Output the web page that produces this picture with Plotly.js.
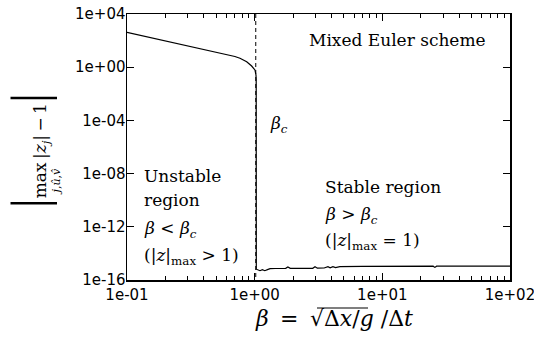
<!DOCTYPE html>
<html>
<head>
<meta charset="utf-8">
<script src="https://cdn.plot.ly/plotly-3.0.1.min.js"></script>
<style>html,body{margin:0;padding:0;background:#fff;}#chart{width:534px;height:347px;}</style>
</head>
<body>
<div id="chart"></div>
<script>
// beta = sqrt(dx/g)/dt  and  | max|z_j| - 1 |
const beta = [0.1, 0.15, 0.2, 0.3, 0.4, 0.5, 0.6, 0.7, 0.767, 0.866, 0.947, 1.005, 1.024, 1.028,
  1.03, 1.06, 1.10, 1.15, 1.2, 1.26, 1.32, 1.45, 1.6, 1.75, 1.82, 1.9, 2.4, 2.85, 2.97, 3.1, 3.5,
  3.75, 3.9, 4.1, 4.3, 4.65, 7, 13, 25, 25.8, 26.6, 50, 100];
const gap = [417, 177, 96, 40.6, 22, 13.7, 9.3, 6.4, 4.7, 2.6, 1.23, 0.62, 0.26, 0.12,
  6.5e-16, 5.8e-16, 5.0e-16, 6.0e-16, 5.0e-16, 6.0e-16, 7.2e-16, 7.3e-16, 7.5e-16, 7.5e-16, 9.5e-16, 7.5e-16, 7.5e-16, 7.6e-16, 1.0e-15, 7.8e-16, 8.0e-16,
  1.0e-15, 8.2e-16, 1.0e-15, 8.5e-16, 1.0e-15, 1.05e-15, 1.1e-15, 1.1e-15, 8.9e-16, 1.1e-15, 1.1e-15, 1.1e-15];
const betaC = 1.02;
const yLimits = [1e4, 1e-16];

const xTickVals = [0.1, 1, 10, 100];
const xTickText = ["1e-01", "1e+00", "1e+01", "1e+02"];
const yTickVals = [1e4, 1, 1e-4, 1e-8, 1e-12, 1e-16];
const yTickText = ["1e+04", "1e+00", "1e-04", "1e-08", "1e-12", "1e-16"];

const serif = "DejaVu Serif, Liberation Serif, serif";
const tickFont = {family: "DejaVu Sans, sans-serif", size: 15, color: "#000"};
const annFont = {family: serif, size: 17, color: "#000"};
const NB = "\u00a0", TH = "\u2009";

const traces = [
  {x: [betaC, betaC], y: yLimits, mode: "lines", line: {color: "#000", width: 1, dash: "4px,3px"}, hoverinfo: "skip"},
  {x: beta, y: gap, mode: "lines", line: {color: "#000", width: 1.2}}
];

function ann(text, x, y, xanchor, extra) {
  return Object.assign({text: text, x: x, y: y, xref: "paper", yref: "paper", xanchor: xanchor, yanchor: "middle",
    showarrow: false, font: annFont}, extra || {});
}

const bar = "<span style=\"font-size:50px;font-family:Liberation Serif\">|</span>";
const annotations = [
  ann("Mixed Euler scheme", 0.9426, 0.902, "right"),
  ann("<i>β</i><sub><i>c</i></sub>", 0.368, 0.583, "left"),
  ann("Unstable", 0.039, 0.39, "left"),
  ann("region", 0.039, 0.301, "left"),
  ann("<i>β</i> &lt; <i>β</i><sub><i>c</i></sub>", 0.039, 0.188, "left"),
  ann("(|<i>z</i>|<sub>max</sub> &gt; 1)", 0.039, 0.0865, "left"),
  ann("Stable region", 0.512, 0.35, "left"),
  ann("<i>β</i> &gt; <i>β</i><sub><i>c</i></sub>", 0.512, 0.244, "left"),
  ann("(|<i>z</i>|<sub>max</sub> = 1)", 0.512, 0.143, "left"),
  ann("<i>β</i>" + NB + TH + "=" + NB + TH + "√Δ<i>x</i>/<i>g</i>" + NB + "/Δ<i>t</i>", 0.54, -0.143, "center",
      {font: {family: serif, size: 22, color: "#000"}}),
  ann(bar + "max" + TH + "|<i>z<sub>j</sub></i>|" + TH + "−" + TH + "1" + bar,
      -0.255, 0.485, "center", {textangle: -90}),
  ann("<i>j</i>,<i>û</i>,<i>v̂</i>", -0.183, 0.37, "center", {textangle: -90, font: {family: serif, size: 11, color: "#000"}})
];

const shapes = [
  {type: "line", xref: "paper", yref: "paper", x0: (317 - 127) / 383, x1: (368 - 127) / 383,
   y0: -(308 - 280) / 266, y1: -(308 - 280) / 266, line: {color: "#000", width: 1.2}, layer: "above"}
];

const axisCommon = {
  type: "log", showgrid: false, zeroline: false, showline: true, linecolor: "#000", linewidth: 1.5,
  mirror: "ticks", ticks: "inside", ticklen: 7, tickwidth: 1, tickcolor: "#000",
  tickfont: tickFont, tickmode: "array", ticklabeloverflow: "allow"
};

const layout = {
  width: 534, height: 347,
  margin: {l: 127, r: 24, t: 14, b: 67},
  paper_bgcolor: "#fff", plot_bgcolor: "#fff",
  showlegend: false,
  xaxis: Object.assign({}, axisCommon, {
    range: [-1, 2.00001], tickvals: xTickVals, ticktext: xTickText,
    minor: {tickmode: "linear", tick0: 0, dtick: "D1", ticks: "inside", ticklen: 4, tickcolor: "#000", tickwidth: 1}
  }),
  yaxis: Object.assign({}, axisCommon, {
    range: [-16, 4], tickvals: yTickVals, ticktext: yTickText, ticklabelstandoff: -3
  }),
  annotations: annotations,
  shapes: shapes
};

Plotly.newPlot("chart", traces, layout, {staticPlot: true, displayModeBar: false});
</script>
</body>
</html>
